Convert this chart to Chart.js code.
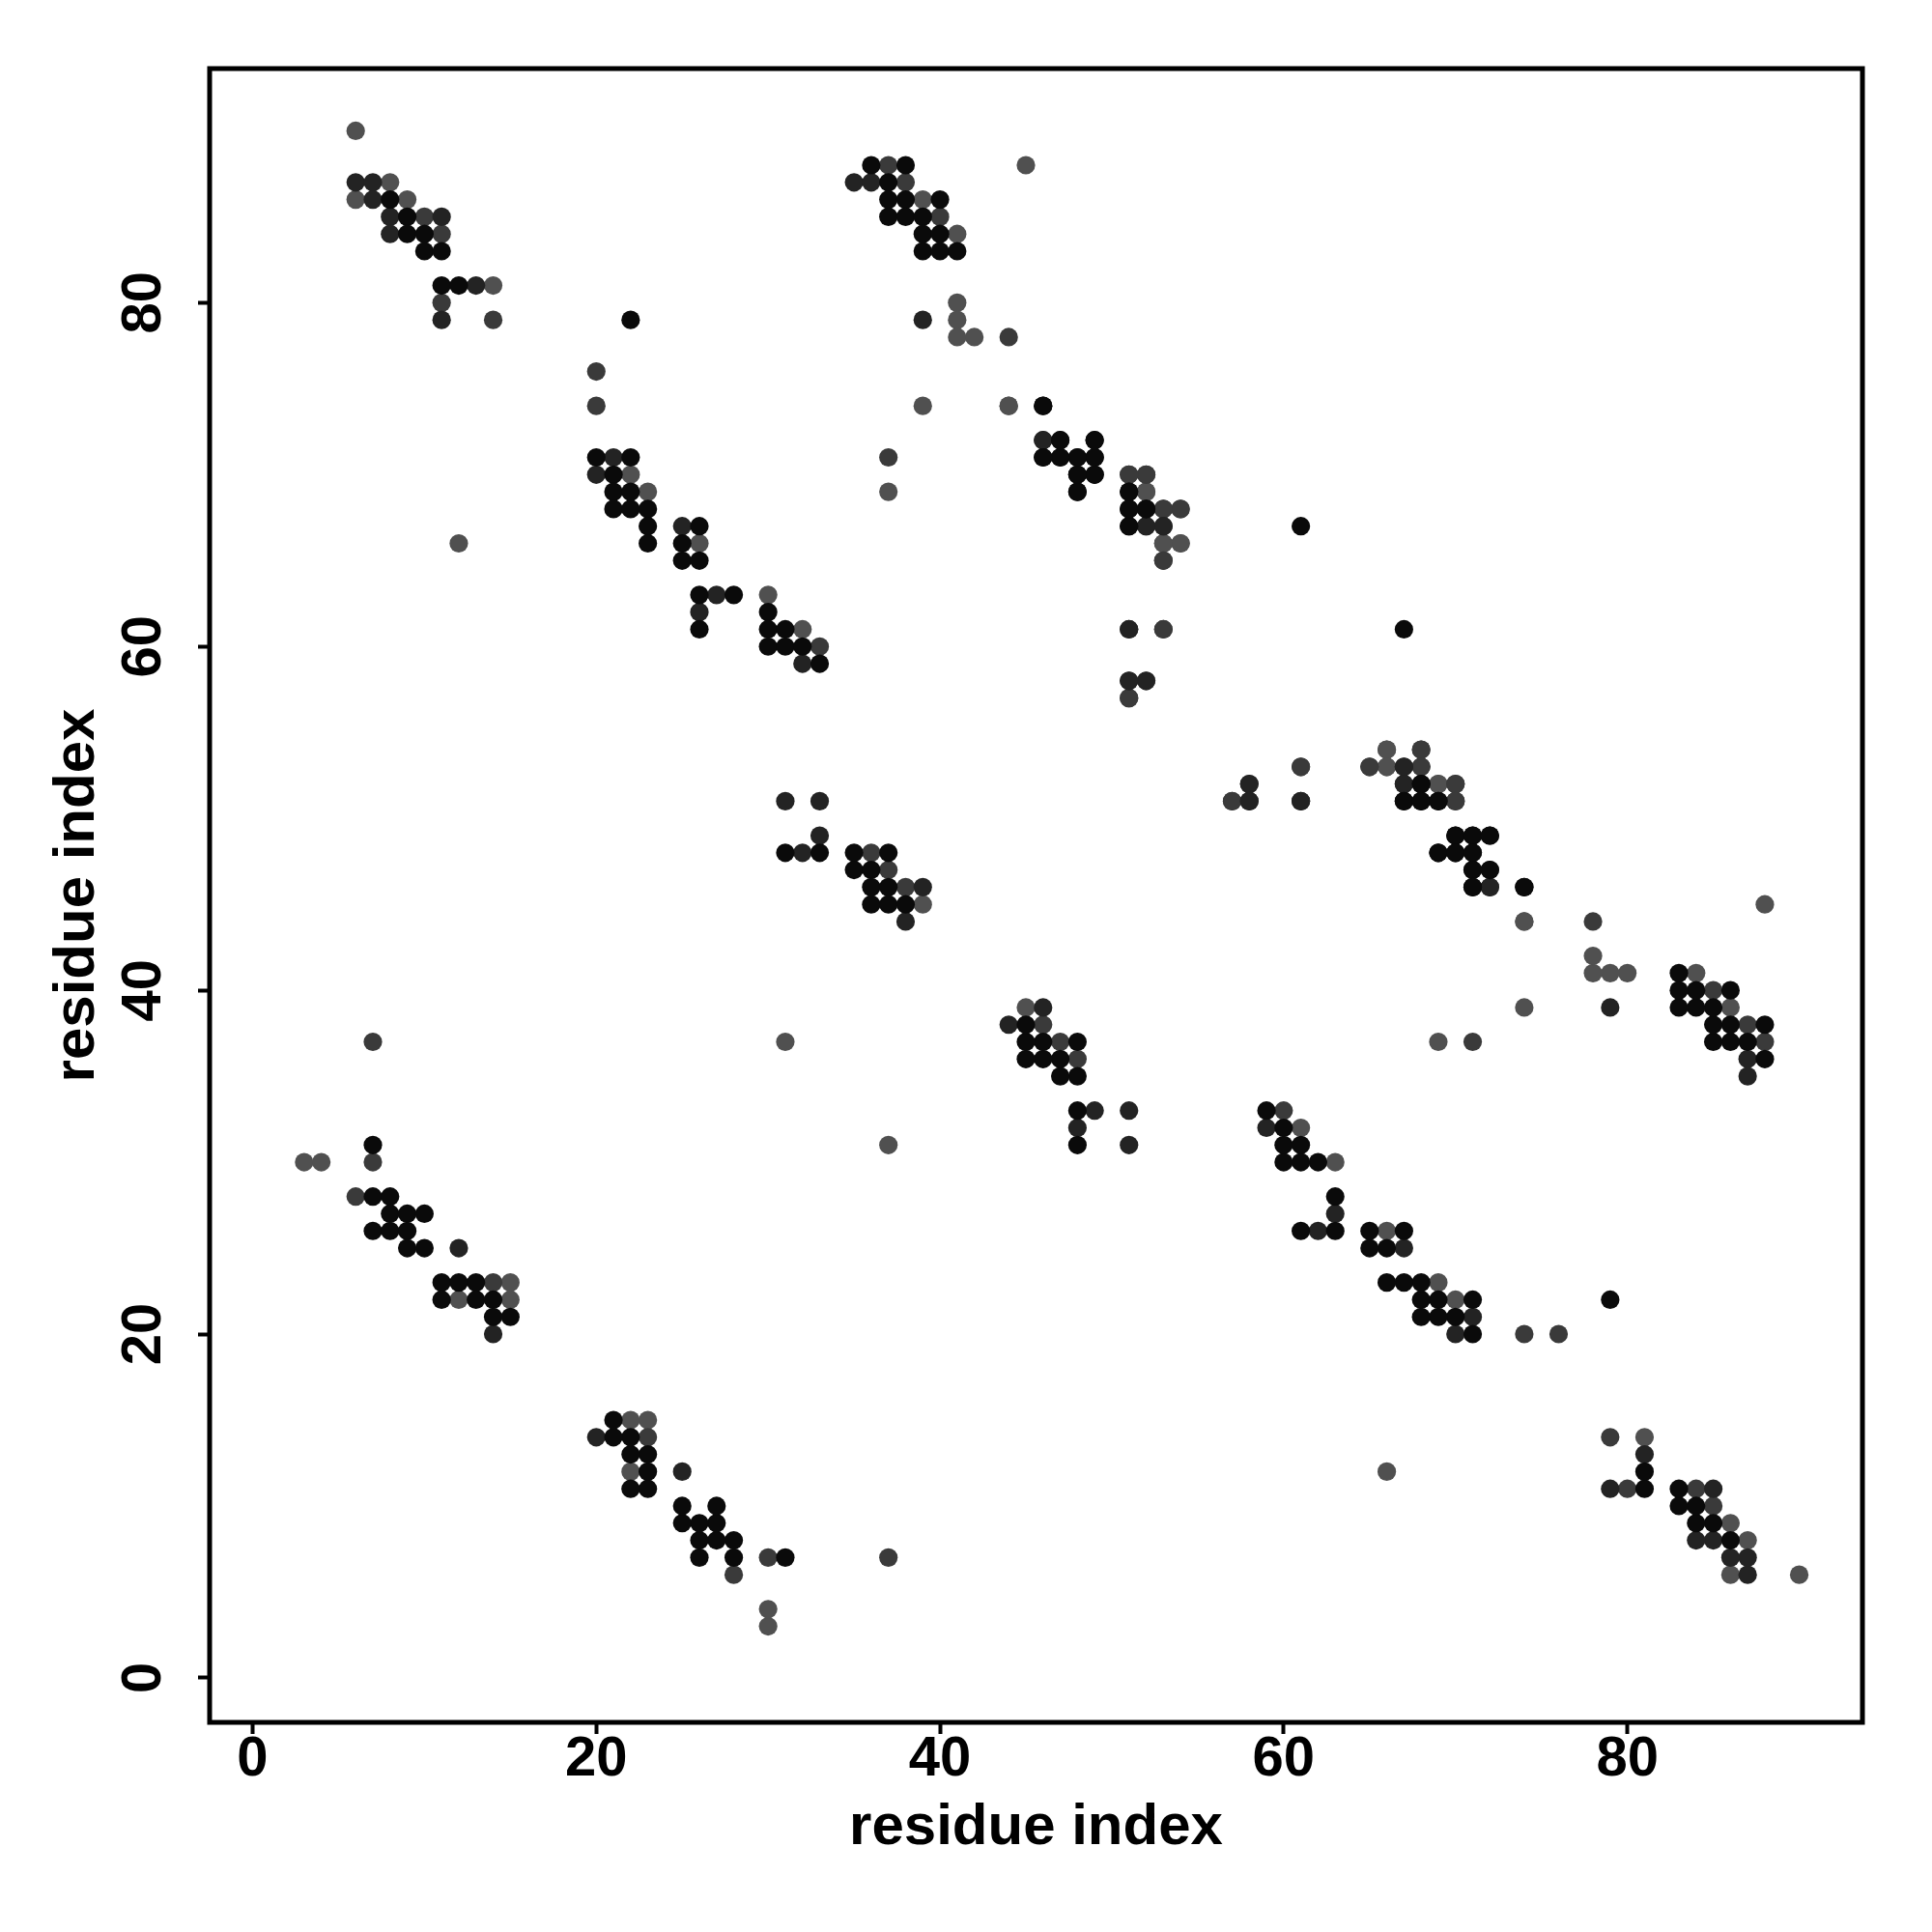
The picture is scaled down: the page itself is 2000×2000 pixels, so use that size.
<!DOCTYPE html>
<html>
<head>
<meta charset="utf-8">
<script src="https://cdn.jsdelivr.net/npm/chart.js@4/dist/chart.umd.min.js"></script>
<style>
  html, body { margin: 0; padding: 0; background: #fff; }
  #wrap { width: 2000px; height: 2000px; }
</style>
</head>
<body>
<div id="wrap"><canvas id="map" width="2000" height="2000"></canvas></div>
<script>
// contact map: pairs [i, j] read from the upper triangle (j > i); the map is symmetric
const TICKS = [0, 20, 40, 60, 80];
const AXIS_TITLE = "residue index";

// darkest contacts
const contactsStrong = [
  [8,86],[9,85],[9,84],[10,84],[10,83],[11,83],[11,81],[12,81],
  [20,71],[22,71],[21,70],[21,69],[22,69],[21,68],[22,68],[23,68],[23,67],[23,66],
  [26,67],[25,66],[25,65],[26,65],[26,63],[28,63],[26,61],[30,62],[30,61],[31,61],
  [30,60],[31,60],[32,60],[33,59],
  [36,88],[38,88],[37,87],[37,86],[38,86],[40,86],[37,85],[38,85],[39,85],[39,84],
  [40,84],[39,83],[40,83],[41,83],
  [46,74],[47,72],[49,72],[46,71],[48,71],[49,71],[48,70],[49,70],[48,69],[51,69],
  [51,68],[52,68],[51,67],
  [31,48],[33,48],[35,48],[37,48],[35,47],[36,47],[36,46],[37,46],[36,45],[37,45],[38,45],
  [68,52],[67,51],[68,51],[69,51],[70,49],[71,49],[72,49],[69,48],[70,48],[71,48],
  [71,47],[72,47],[71,46],[74,46],
  [7,31],[7,28],[8,28],[8,27],[9,27],[10,27],[7,26],[8,26],[9,26],[9,25],[10,25],
  [11,23],[12,23],[13,23],[11,22],[13,22],[14,22],[14,21],[15,21],
  [22,79],[61,67]
];

const contactsHigh = [
  [6,87],[7,87],[7,86],[8,85],[11,85],[8,84],[13,81],[11,79],
  [21,71],[20,70],[25,67],[27,63],[26,62],[32,59],
  [35,87],[36,87],[39,79],
  [46,72],[47,71],[52,67],[53,67],[51,61],[51,58],
  [31,51],[33,51],[33,49],[32,48],[39,46],[38,44],
  [67,53],[58,52],[67,52],[58,51],[61,51],[72,46],
  [12,25],[14,20]
];

const contactsMid = [
  [10,85],[11,84],[11,80],[14,79],
  [20,76],[20,74],[33,60],
  [37,88],[38,87],[40,85],
  [44,78],[37,71],
  [51,70],[52,70],[53,68],[54,68],[53,65],[53,61],[52,58],[51,57],
  [36,48],[37,47],[38,46],
  [68,54],[61,53],[65,53],[68,53],[70,52],[57,51],[70,51],
  [7,30],[6,28],[14,23],
  [7,37]
];

const contactsLow = [
  [6,90],[8,87],[6,86],[9,86],[14,81],
  [22,70],[23,69],[26,66],[30,63],[32,61],
  [39,86],[41,84],[41,80],[41,79],[41,78],[42,78],
  [45,88],[39,74],[37,69],[44,74],
  [52,69],[53,66],[54,66],
  [39,45],
  [66,54],[66,53],[69,52],[74,44],
  [3,30],[4,30],[15,23],[12,22],[15,22],
  [12,66],[31,37]
];

function both(pairs) {
  // each contact (i, j) is drawn at (i, j) and (j, i)
  return pairs.flatMap(([i, j]) => [{ x: i, y: j }, { x: j, y: i }]);
}

function dots(pairs, color) {
  return {
    data: both(pairs),
    backgroundColor: color,
    borderWidth: 0,
    pointRadius: 9.6,
    pointHoverRadius: 9.6,
  };
}

const FONT = "'Liberation Sans', Arial, Helvetica, sans-serif";

const frame = {
  id: "frame",
  afterDraw(chart) {
    const { ctx, chartArea: a } = chart;
    ctx.save();
    ctx.strokeStyle = "#000";
    ctx.lineWidth = 5;
    ctx.strokeRect(a.left, a.top, a.right - a.left, a.bottom - a.top);
    ctx.restore();
  }
};

function axis(min, max, isY) {
  return {
    type: "linear",
    min, max,
    afterBuildTicks: (s) => { s.ticks = TICKS.map(v => ({ value: v })); },
    afterFit: (s) => { if (isY) s.width = 217; else s.height = 217; },
    border: { display: false },
    grid: {
      display: true,
      drawOnChartArea: false,
      drawTicks: true,
      tickLength: 12,
      tickWidth: 4,
      tickColor: "#000",
    },
    ticks: {
      color: "#000",
      font: { family: FONT, size: 58, weight: "bold", lineHeight: 1 },
      padding: isY ? 23 : -2,
      minRotation: isY ? 90 : 0,
      maxRotation: isY ? 90 : 0,
      crossAlign: isY ? "center" : "near",
    },
    title: {
      display: true,
      text: AXIS_TITLE,
      color: "#000",
      font: { family: FONT, size: 60, weight: "bold", lineHeight: 1 },
      padding: isY ? { top: 50 } : { bottom: 78 },
    },
  };
}

new Chart(document.getElementById("map").getContext("2d"), {
  type: "scatter",
  data: {
    datasets: [
      dots(contactsStrong, "#0a0a0a"),
      dots(contactsHigh, "#232323"),
      dots(contactsMid, "#3a3a3a"),
      dots(contactsLow, "#505050"),
    ]
  },
  options: {
    responsive: false,
    animation: false,
    devicePixelRatio: 1,
    layout: { padding: { top: 71, right: 72, left: 0, bottom: 0 }, autoPadding: false },
    plugins: { legend: { display: false }, tooltip: { enabled: false } },
    scales: {
      x: axis(-2.5, 93.68, false),
      y: axis(-2.59, 93.62, true),
    }
  },
  plugins: [frame],
});
</script>
</body>
</html>
